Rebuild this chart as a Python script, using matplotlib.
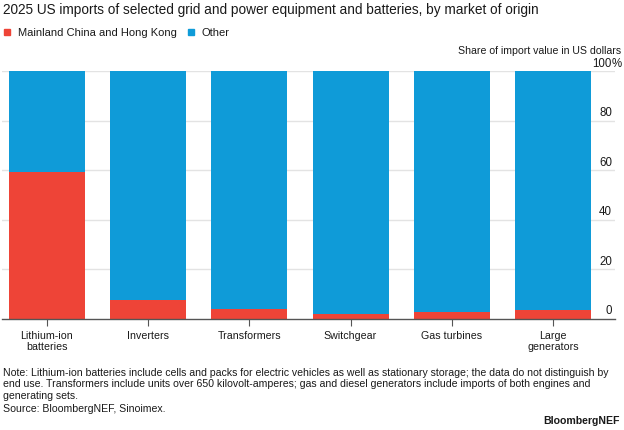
import matplotlib
matplotlib.use("Agg")
import matplotlib.pyplot as plt
from matplotlib.transforms import blended_transform_factory, offset_copy
from matplotlib.patches import Rectangle

plt.rcParams['font.family'] = ['Liberation Sans', 'DejaVu Sans']

categories = ["Lithium-ion\nbatteries", "Inverters", "Transformers", "Switchgear",
              "Gas turbines", "Large\ngenerators"]
china = [59.2, 7.5, 4.0, 2.0, 2.7, 3.5]
other = [100 - v for v in china]
yticks = [0, 20, 40, 60, 80, 100]
ytick_labels = ["0", "20", "40", "60", "80", "100%"]

RED = "#EE4437"
BLUE = "#0F9BD8"
TXT = "#1a1a1a"

fig = plt.figure(figsize=(6.24, 4.31), dpi=100)
ax = fig.add_axes([2/624, 111/431, 613/624, 248/431])

x = list(range(len(categories)))
ax.bar(x, china, width=0.75, color=RED, zorder=2, linewidth=0)
ax.bar(x, other, width=0.75, bottom=china, color=BLUE, zorder=2, linewidth=0)

ax.set_xlim(-0.44, 5.61)
ax.set_ylim(0, 100)
for s in ["top", "right", "left"]:
    ax.spines[s].set_visible(False)
ax.spines["bottom"].set_color("#555555")
ax.spines["bottom"].set_linewidth(1.0)
ax.spines["bottom"].set_zorder(3)

ax.set_xticks(x)
ax.set_xticklabels(categories, fontsize=7.7, color=TXT, linespacing=1.05)
ax.tick_params(axis="x", length=5, color="#555555", pad=3)
ax.set_yticks([])
for v in yticks[1:]:
    ax.axhline(v, color="#e3e3e3", linewidth=1.0, zorder=1)

tr = blended_transform_factory(ax.transAxes, ax.transData)
tr = offset_copy(tr, fig=fig, x=-3, y=2.5, units="dots")
for v, lab in zip(yticks, ytick_labels):
    if lab.endswith("%"):
        ax.text(1.0, v, lab[:-1], transform=tr, ha="right", va="bottom",
                fontsize=8.3, color=TXT)
        ax.text(1.0, v, "%", transform=tr, ha="left", va="bottom",
                fontsize=8.3, color=TXT)
    else:
        ax.text(1.0, v, lab, transform=tr, ha="right", va="bottom",
                fontsize=8.3, color=TXT)

fig.text(621/624, 1 - 51.5/431, "Share of import value in US dollars", ha="right",
         va="center", fontsize=7.6, color=TXT)

fig.text(3/624, 1 - 10/431, "2025 US imports of selected grid and power equipment and batteries, by market of origin",
         ha="left", va="center", fontsize=9.8, color=TXT)

# legend
fig.patches.append(Rectangle((4/624, 1 - 35.5/431), 6/624, 6/431, transform=fig.transFigure,
                             color=RED, figure=fig))
fig.text(18/624, 1 - 32.5/431, "Mainland China and Hong Kong", ha="left", va="center",
         fontsize=8.0, color=TXT)
fig.patches.append(Rectangle((188/624, 1 - 35.5/431), 6/624, 6/431, transform=fig.transFigure,
                             color=BLUE, figure=fig))
fig.text(202/624, 1 - 32.5/431, "Other", ha="left", va="center", fontsize=8.0, color=TXT)

note_lines = [
    "Note: Lithium-ion batteries include cells and packs for electric vehicles as well as stationary storage; the data do not distinguish by",
    "end use. Transformers include units over 650 kilovolt-amperes; gas and diesel generators include imports of both engines and",
    "generating sets.",
]
for i, line in enumerate(note_lines):
    fig.text(3/624, 1 - (373 + 11.3 * i)/431, line, ha="left", va="center",
             fontsize=7.6, color=TXT)
fig.text(3/624, 1 - 409/431, "Source: BloombergNEF, Sinoimex.", ha="left", va="center",
         fontsize=7.6, color=TXT)
fig.text(620/624, 1 - 421/431, "BloombergNEF", ha="right", va="center", fontsize=7.6,
         color=TXT, fontweight="bold")

fig.savefig("out.png", dpi=100)
